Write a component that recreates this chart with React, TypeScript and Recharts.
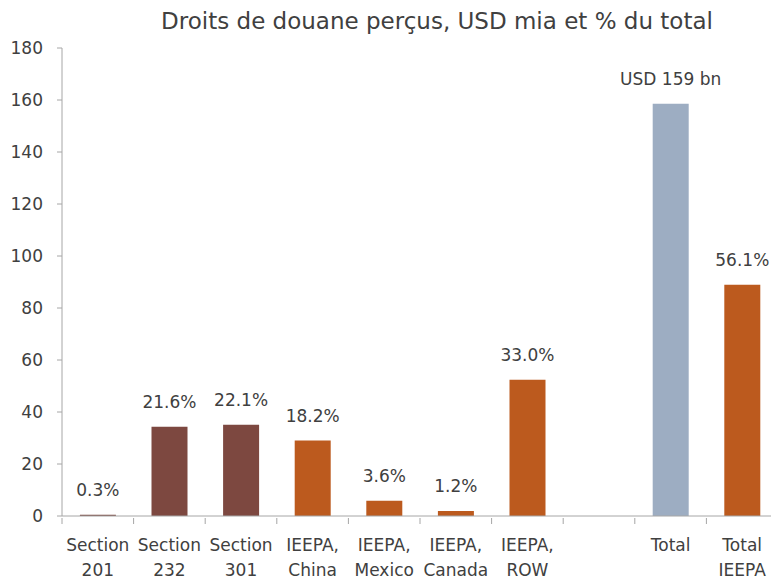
import { BarChart, Bar, XAxis, YAxis, Cell, LabelList } from "recharts";

const categories = [
  "Section 201",
  "Section 232",
  "Section 301",
  "IEEPA, China",
  "IEEPA, Mexico",
  "IEEPA, Canada",
  "IEEPA, ROW",
  "",
  "Total",
  "Total IEEPA",
];
const values = [0.5, 34.3, 35.1, 29.0, 5.9, 1.9, 52.4, null, 158.6, 88.9];
const shares = ["0.3%", "21.6%", "22.1%", "18.2%", "3.6%", "1.2%", "33.0%", "", "USD 159 bn", "56.1%"];
const groups = ["section", "section", "section", "ieepa", "ieepa", "ieepa", "ieepa", "", "total", "ieepa"];
const yTicks = [0, 20, 40, 60, 80, 100, 120, 140, 160, 180];

const colors: Record<string, string> = {
  section: "#7D4840",
  ieepa: "#BC5A1E",
  total: "#9DADC2",
};

const font = "'DejaVu Sans', sans-serif";
const textColor = "#404040";
const axisColor = "#A6A6A6";

const data = categories.map((name, i) => ({
  name,
  value: values[i],
  share: shares[i],
  group: groups[i],
}));

const CategoryTick = (props: any) => {
  const { x, y, payload } = props;
  const half = payload.offset ?? 35.8;
  const label: string = payload.value || "";
  const cut = label.indexOf(" ");
  const lines = cut < 0 ? [label] : [label.slice(0, cut), label.slice(cut + 1)];
  return (
    <g>
      <line x1={x - half} x2={x - half} y1={y} y2={y + 6} stroke={axisColor} />
      {lines.map((l, i) => (
        <text
          key={i}
          x={x}
          y={y + 33 + i * 25}
          textAnchor="middle"
          fill={textColor}
          fontSize={17}
          fontFamily={font}
        >
          {l}
        </text>
      ))}
    </g>
  );
};

const ShareLabel = (props: any) => {
  const { x, y, width, value } = props;
  if (!value) return null;
  return (
    <text
      x={x + width / 2}
      y={y - 19}
      textAnchor="middle"
      fill={textColor}
      fontSize={17}
      fontFamily={font}
    >
      {value}
    </text>
  );
};

export default function App() {
  return (
    <div
      style={{
        position: "absolute",
        left: 0,
        top: 0,
        width: 771,
        height: 576,
        overflow: "hidden",
        background: "#fff",
      }}
    >
      <div
        style={{
          position: "absolute",
          left: 0,
          top: 8,
          width: 874,
          textAlign: "center",
          fontFamily: font,
          fontSize: 23,
          color: textColor,
        }}
      >
        Droits de douane perçus, USD mia et % du total
      </div>
      <BarChart
        width={790}
        height={576}
        data={data}
        margin={{ top: 48, right: 12, left: 0, bottom: 0 }}
        barCategoryGap="25%"
      >
        <XAxis
          dataKey="name"
          height={60}
          tickLine={false}
          tickSize={0}
          axisLine={{ stroke: axisColor }}
          tick={<CategoryTick />}
          interval={0}
        />
        <YAxis
          width={62}
          domain={[0, 180]}
          ticks={yTicks}
          tickSize={5}
          tickMargin={14}
          axisLine={{ stroke: axisColor }}
          tickLine={{ stroke: axisColor }}
          tick={{ fill: textColor, fontSize: 17, fontFamily: font }}
        />
        <Bar dataKey="value" isAnimationActive={false}>
          {data.map((d, i) => (
            <Cell key={i} fill={colors[d.group] || "none"} />
          ))}
          <LabelList dataKey="share" content={<ShareLabel />} />
        </Bar>
      </BarChart>
    </div>
  );
}
